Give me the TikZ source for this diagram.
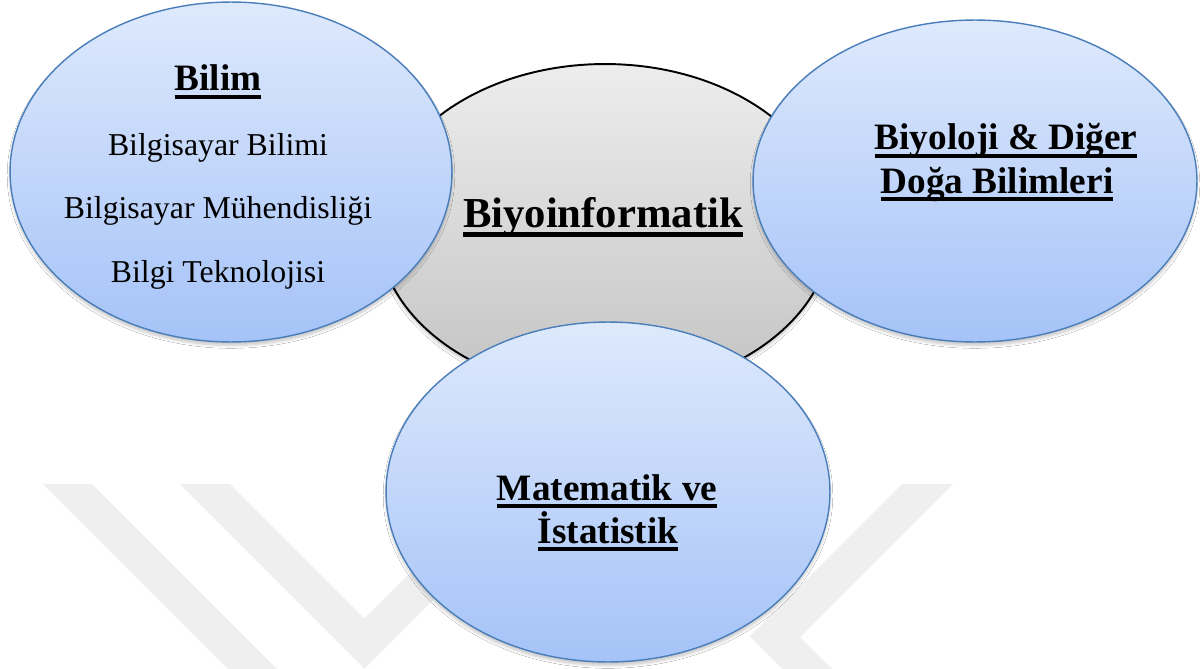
\documentclass[tikz,border=0pt]{standalone}
\usepackage{fontspec}
\setmainfont{Liberation Serif}
\usetikzlibrary{shapes.geometric,shadows.blur}

\definecolor{bluetop}{HTML}{DEE9FC}
\definecolor{bluebot}{HTML}{A5C3F8}
\definecolor{blueline}{HTML}{4A7EBB}
\definecolor{graytop}{HTML}{EDEDED}
\definecolor{graybot}{HTML}{C3C3C3}
\definecolor{wmgray}{HTML}{EFEFEF}

% thick underline that runs through the descenders
\newcommand\ultext[1]{\setbox0\hbox{#1}\rlap{\rule[-0.225em]{\wd0}{0.11em}}\box0}

\tikzset{
  softshadow/.style={blur shadow={shadow xshift=0pt, shadow yshift=-2pt,
      shadow blur radius=1.6pt, shadow blur steps=6, shadow opacity=22}},
  bubble/.style={ellipse, draw=blueline, line width=0.8pt,
    top color=bluetop, bottom color=bluebot, inner sep=0pt, softshadow},
  hub/.style={ellipse, draw=black, line width=1.1pt,
    top color=graytop, bottom color=graybot, inner sep=0pt, softshadow},
  head/.style={font=\bfseries\fontsize{21.2}{25}\selectfont, anchor=base, inner sep=0pt},
  bighead/.style={font=\bfseries\fontsize{24.3}{29}\selectfont, anchor=base, inner sep=0pt},
  item/.style={font=\fontsize{18.1}{22}\selectfont, anchor=base, inner sep=0pt},
  wm/.style={fill=wmgray, draw=none}
}

\begin{document}
\begin{tikzpicture}[x=0.02cm, y=-0.02cm]
  \useasboundingbox (0,0) rectangle (1203,669);
  \fill[white] (0,0) rectangle (1203,669);

  % faint background emblem
  \fill[wm] (43,484) -- (92,484) -- (277,669) -- (228,669) -- cycle;
  \fill[wm] (180,484) -- (230,484) -- (364.5,618.5) -- (499,484)
            -- (549,484) -- (364.5,668.5) -- cycle;
  \fill[wm] (902,484) -- (953,484) -- (800,637) -- (832,669)
            -- (782,669) -- (749.5,636.5) -- cycle;

  % central topic
  \node[hub, minimum width=9.08cm, minimum height=6.56cm] (hub) at (605,228) {};

  % surrounding fields
  \node[bubble, minimum width=8.84cm, minimum height=6.8cm] (bilim) at (231,172) {};
  \node[bubble, minimum width=8.88cm, minimum height=6.44cm] (biyo) at (975,181) {};
  \node[bubble, minimum width=8.88cm, minimum height=6.8cm] (mat) at (608,492) {};

  % texts
  \node[bighead] (hubtxt) at (603,227) {\ultext{Biyoinformatik}};

  \node[head] (bilimtxt) at (218,91) {\ultext{Bilim}};
  \node[item] (bb) at (218,155) {Bilgisayar Bilimi};
  \node[item] (bm) at (218,218) {Bilgisayar Mühendisliği};
  \node[item] (bt) at (218,282) {Bilgi Teknolojisi};

  \node[head] (biyo1) at (1006,150) {\ultext{Biyoloji \& Diğer}};
  \node[head] (biyo2) at (997,193) {\ultext{Doğa Bilimleri}};

  \node[head] (mat1) at (607,500) {\ultext{Matematik ve}};
  \node[head] (mat2) at (608,543) {\ultext{İstatistik}};
\end{tikzpicture}
\end{document}
